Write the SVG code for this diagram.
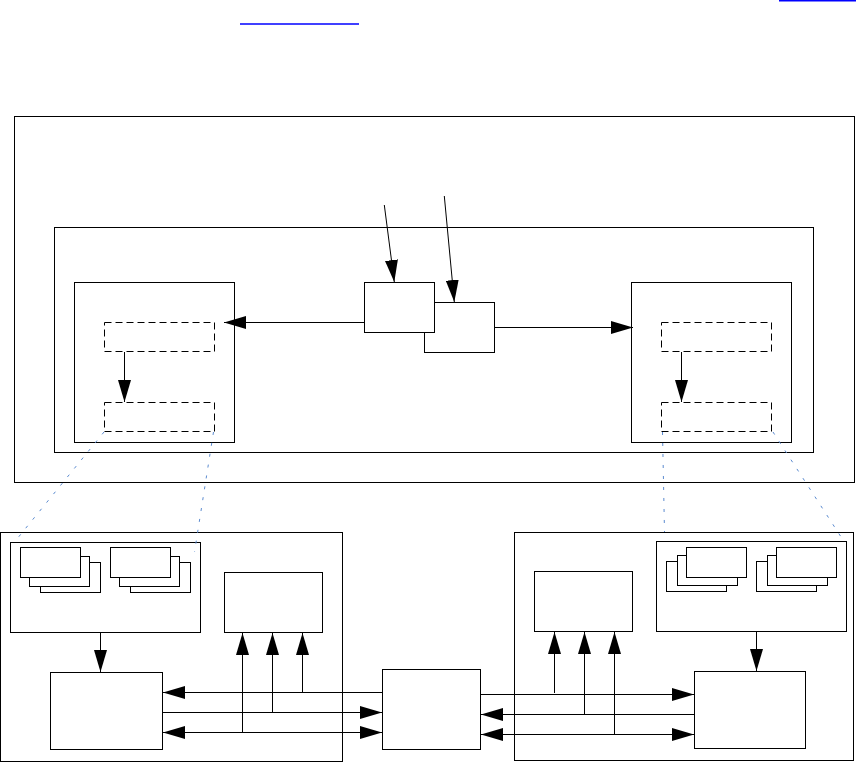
<svg xmlns="http://www.w3.org/2000/svg" width="857" height="763" viewBox="0 0 857 763">
<style>
.b{fill:#fff;stroke:#000;stroke-width:1}
.d{fill:none;stroke:#000;stroke-width:1;stroke-dasharray:7 4}
.c{fill:none;stroke:#000;stroke-width:1}
.a{marker-end:url(#ah)}
.aa{marker-end:url(#ah);marker-start:url(#ah)}
.lk{stroke:#0000ff;stroke-width:1.4}
.bl{fill:none;stroke:#5b8bd0;stroke-width:1;stroke-dasharray:3 8}
</style>
<defs>
<marker id="ah" markerUnits="userSpaceOnUse" markerWidth="22" markerHeight="13" refX="22" refY="6.5" orient="auto-start-reverse">
<path d="M0,0 L22,6.5 L0,13 z" fill="#000"/>
</marker>
</defs>
<g id="links">
<line class="lk" x1="240" y1="24" x2="359" y2="24"/>
<line class="lk" x1="779" y1="0.7" x2="856" y2="0.7"/>
</g>
<g id="outer"><rect class="b" x="14.5" y="116.5" width="840" height="366"/></g>
<g id="inner"><rect class="b" x="54.5" y="227.5" width="759" height="225"/></g>
<g id="leftStore">
<rect class="b" x="74.5" y="282.5" width="160" height="160"/>
<rect class="d" x="104.5" y="322.5" width="110" height="29"/>
<rect class="d" x="104.5" y="402.5" width="110" height="29"/>
</g>
<g id="rightStore">
<rect class="b" x="631.5" y="282.5" width="160" height="160"/>
<rect class="d" x="661.5" y="322.5" width="110" height="29"/>
<rect class="d" x="661.5" y="402.5" width="110" height="29"/>
</g>
<g id="centerB"><rect class="b" x="424.5" y="302.5" width="70" height="50"/></g>
<g id="centerA"><rect class="b" x="364.5" y="282.5" width="70" height="50"/></g>
<g id="bottomLeft">
<rect class="b" x="0.5" y="532.5" width="342" height="229"/>
<rect class="b" x="10.5" y="542.5" width="190" height="90"/>
<rect class="b" x="40.5" y="562.5" width="60" height="30"/>
<rect class="b" x="29.5" y="556.5" width="60" height="30"/>
<rect class="b" x="20.5" y="547.5" width="60" height="30"/>
<rect class="b" x="130.5" y="562.5" width="60" height="30"/>
<rect class="b" x="119.5" y="556.5" width="60" height="30"/>
<rect class="b" x="110.5" y="547.5" width="60" height="30"/>
</g>
<g id="blSource"><rect class="b" x="50.5" y="672.5" width="112" height="77"/></g>
<g id="blDest"><rect class="b" x="224.5" y="572.5" width="98" height="60"/></g>
<g id="centerBottom"><rect class="b" x="382.5" y="669.5" width="98" height="80"/></g>
<g id="bottomRight">
<rect class="b" x="514.5" y="532.5" width="339" height="228"/>
<rect class="b" x="656.5" y="541.5" width="190" height="90"/>
<rect class="b" x="666.5" y="561.5" width="60" height="30"/>
<rect class="b" x="677.5" y="555.5" width="60" height="30"/>
<rect class="b" x="686.5" y="547.5" width="60" height="30"/>
<rect class="b" x="756.5" y="561.5" width="60" height="30"/>
<rect class="b" x="767.5" y="555.5" width="60" height="30"/>
<rect class="b" x="776.5" y="547.5" width="60" height="30"/>
</g>
<g id="brSource"><rect class="b" x="694.5" y="671.5" width="111" height="77"/></g>
<g id="brDest"><rect class="b" x="534.5" y="571.5" width="98" height="60"/></g>
<g id="connectors">
<line class="c a" x1="384.3" y1="205" x2="394.3" y2="282"/>
<line class="c a" x1="444.3" y1="196" x2="454.3" y2="302"/>
<line class="c a" x1="364" y1="322.5" x2="224" y2="322.5"/>
<line class="c a" x1="495" y1="327.5" x2="633" y2="327.5"/>
<line class="c a" x1="124.5" y1="352" x2="124.5" y2="402"/>
<line class="c a" x1="681.5" y1="352" x2="681.5" y2="402"/>
<line class="c a" x1="100.5" y1="633" x2="100.5" y2="672"/>
<line class="c a" x1="756.5" y1="632" x2="756.5" y2="671"/>
<line class="c a" x1="382" y1="692.5" x2="163" y2="692.5"/>
<line class="c a" x1="163" y1="712.5" x2="382" y2="712.5"/>
<line class="c aa" x1="163" y1="732.5" x2="382" y2="732.5"/>
<line class="c a" x1="302.5" y1="692.5" x2="302.5" y2="633"/>
<line class="c a" x1="272.5" y1="712.5" x2="272.5" y2="633"/>
<line class="c a" x1="242.5" y1="732.5" x2="242.5" y2="633"/>
<line class="c a" x1="481" y1="694.5" x2="694" y2="694.5"/>
<line class="c a" x1="694" y1="714.5" x2="481" y2="714.5"/>
<line class="c aa" x1="481" y1="734.5" x2="694" y2="734.5"/>
<line class="c a" x1="554.5" y1="693" x2="554.5" y2="632"/>
<line class="c a" x1="584.5" y1="714.5" x2="584.5" y2="632"/>
<line class="c a" x1="614.5" y1="734.5" x2="614.5" y2="632"/>
<line class="bl" x1="104" y1="432" x2="14.5" y2="542"/>
<line class="bl" x1="213.5" y1="432" x2="194.5" y2="552"/>
<line class="bl" x1="662.5" y1="432" x2="664.5" y2="532"/>
<line class="bl" x1="773" y1="432" x2="843" y2="540"/>
</g>
</svg>
